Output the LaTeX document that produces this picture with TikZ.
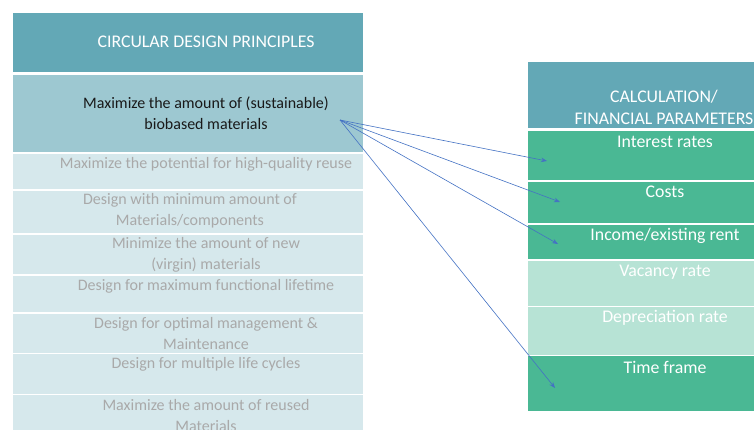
\documentclass[tikz,border=0pt]{standalone}
\usepackage{fontspec}
\setmainfont{Carlito}
\usetikzlibrary{arrows.meta}
\definecolor{hdrteal}{HTML}{63A8B6}
\definecolor{rowone}{HTML}{9DC8D1}
\definecolor{rowpale}{HTML}{D6E8EC}
\definecolor{greendark}{HTML}{4AB894}
\definecolor{greenlight}{HTML}{B7E3D5}
\definecolor{paletext}{HTML}{A9A9A9}
\definecolor{arrblue}{HTML}{4472C4}
\newcommand\cell[6]{\node[cellbox, fill=#6, minimum width={(#4-#2)*1pt}, minimum height={(#5-#3)*1pt}] (#1) at ({(#2+#4)/2},{(#3+#5)/2}) {};}
\begin{document}
\begin{tikzpicture}[x=1pt,y=-1pt,
  cellbox/.style={draw=none, inner sep=0pt, outer sep=0pt, rectangle},
  txt/.style={inner sep=0pt, align=center, font=\fontsize{16}{21}\selectfont},
  hdrtxt/.style={txt, text=white, font=\fontsize{17.8}{22}\selectfont},
  paletxt/.style={txt, text=paletext},
  darktxt/.style={txt, text=black!90},
  wtxt/.style={txt, text=white, font=\fontsize{17.8}{22}\selectfont},
  arr/.style={draw=arrblue, line width=0.6pt, -{Stealth[length=6pt,width=4.5pt]}}]
\useasboundingbox (0,0) rectangle (754,430);
\fill[white] (0,0) rectangle (754,430);
% left column
\cell{hdrL}{13}{13}{363}{72}{hdrteal}
\cell{rA}{13}{75}{363}{152.5}{rowone}
\cell{rB}{13}{153.8}{363}{189.3}{rowpale}
\cell{rC}{13}{190.6}{363}{233.3}{rowpale}
\cell{rD}{13}{234.6}{363}{274.3}{rowpale}
\cell{rE}{13}{275.6}{363}{312.3}{rowpale}
\cell{rF}{13}{313.6}{363}{352.5}{rowpale}
\cell{rG}{13}{353.8}{363}{393.5}{rowpale}
\cell{rH}{13}{394.8}{363}{440}{rowpale}
% right column
\cell{hdrR}{528}{62}{810}{128}{hdrteal}
\cell{pA}{528}{131}{810}{180.3}{greendark}
\cell{pB}{528}{181.6}{810}{223.3}{greendark}
\cell{pC}{528}{224.6}{810}{259.3}{greendark}
\cell{pD}{528}{260.6}{810}{306}{greenlight}
\cell{pE}{528}{307.3}{810}{354.5}{greenlight}
\cell{pF}{528}{355.8}{810}{411}{greendark}
% left texts
\node[hdrtxt] (thL) at (206,42) {CIRCULAR DESIGN PRINCIPLES};
\node[darktxt] (tA) at (206,113.5) {Maximize the amount of (sustainable)\\biobased materials};
\node[paletxt] (tB) at (206,164) {Maximize the potential for high-quality reuse};
\node[paletxt] (tC) at (190,210.5) {Design with minimum amount of\\Materials/components};
\node[paletxt] (tD) at (206,254.5) {Minimize the amount of new\\(virgin) materials};
\node[paletxt] (tE) at (206,286) {Design for maximum functional lifetime};
\node[paletxt] (tF) at (206,334) {Design for optimal management \&\\Maintenance};
\node[paletxt] (tG) at (206,364) {Design for multiple life cycles};
\node[paletxt] (tH) at (206,415.5) {Maximize the amount of reused\\Materials};
% right texts
\node[hdrtxt] (thR) at (664,107) {CALCULATION/\\FINANCIAL PARAMETERS};
\node[wtxt] (uA) at (665,142) {Interest rates};
\node[wtxt] (uB) at (665,192) {Costs};
\node[wtxt] (uC) at (665,236) {Income/existing rent};
\node[wtxt] (uD) at (665,272) {Vacancy rate};
\node[wtxt] (uE) at (665,318) {Depreciation rate};
\node[wtxt] (uF) at (665,367) {Time frame};
% arrows
\coordinate (src) at (340,120);
\coordinate (eA) at (547,161);
\coordinate (eB) at (560,202);
\coordinate (eC) at (558,244);
\coordinate (eF) at (555,388);
\draw[arr] (src) -- (eA);
\draw[arr] (src) -- (eB);
\draw[arr] (src) -- (eC);
\draw[arr] (src) -- (eF);
\end{tikzpicture}
\end{document}
